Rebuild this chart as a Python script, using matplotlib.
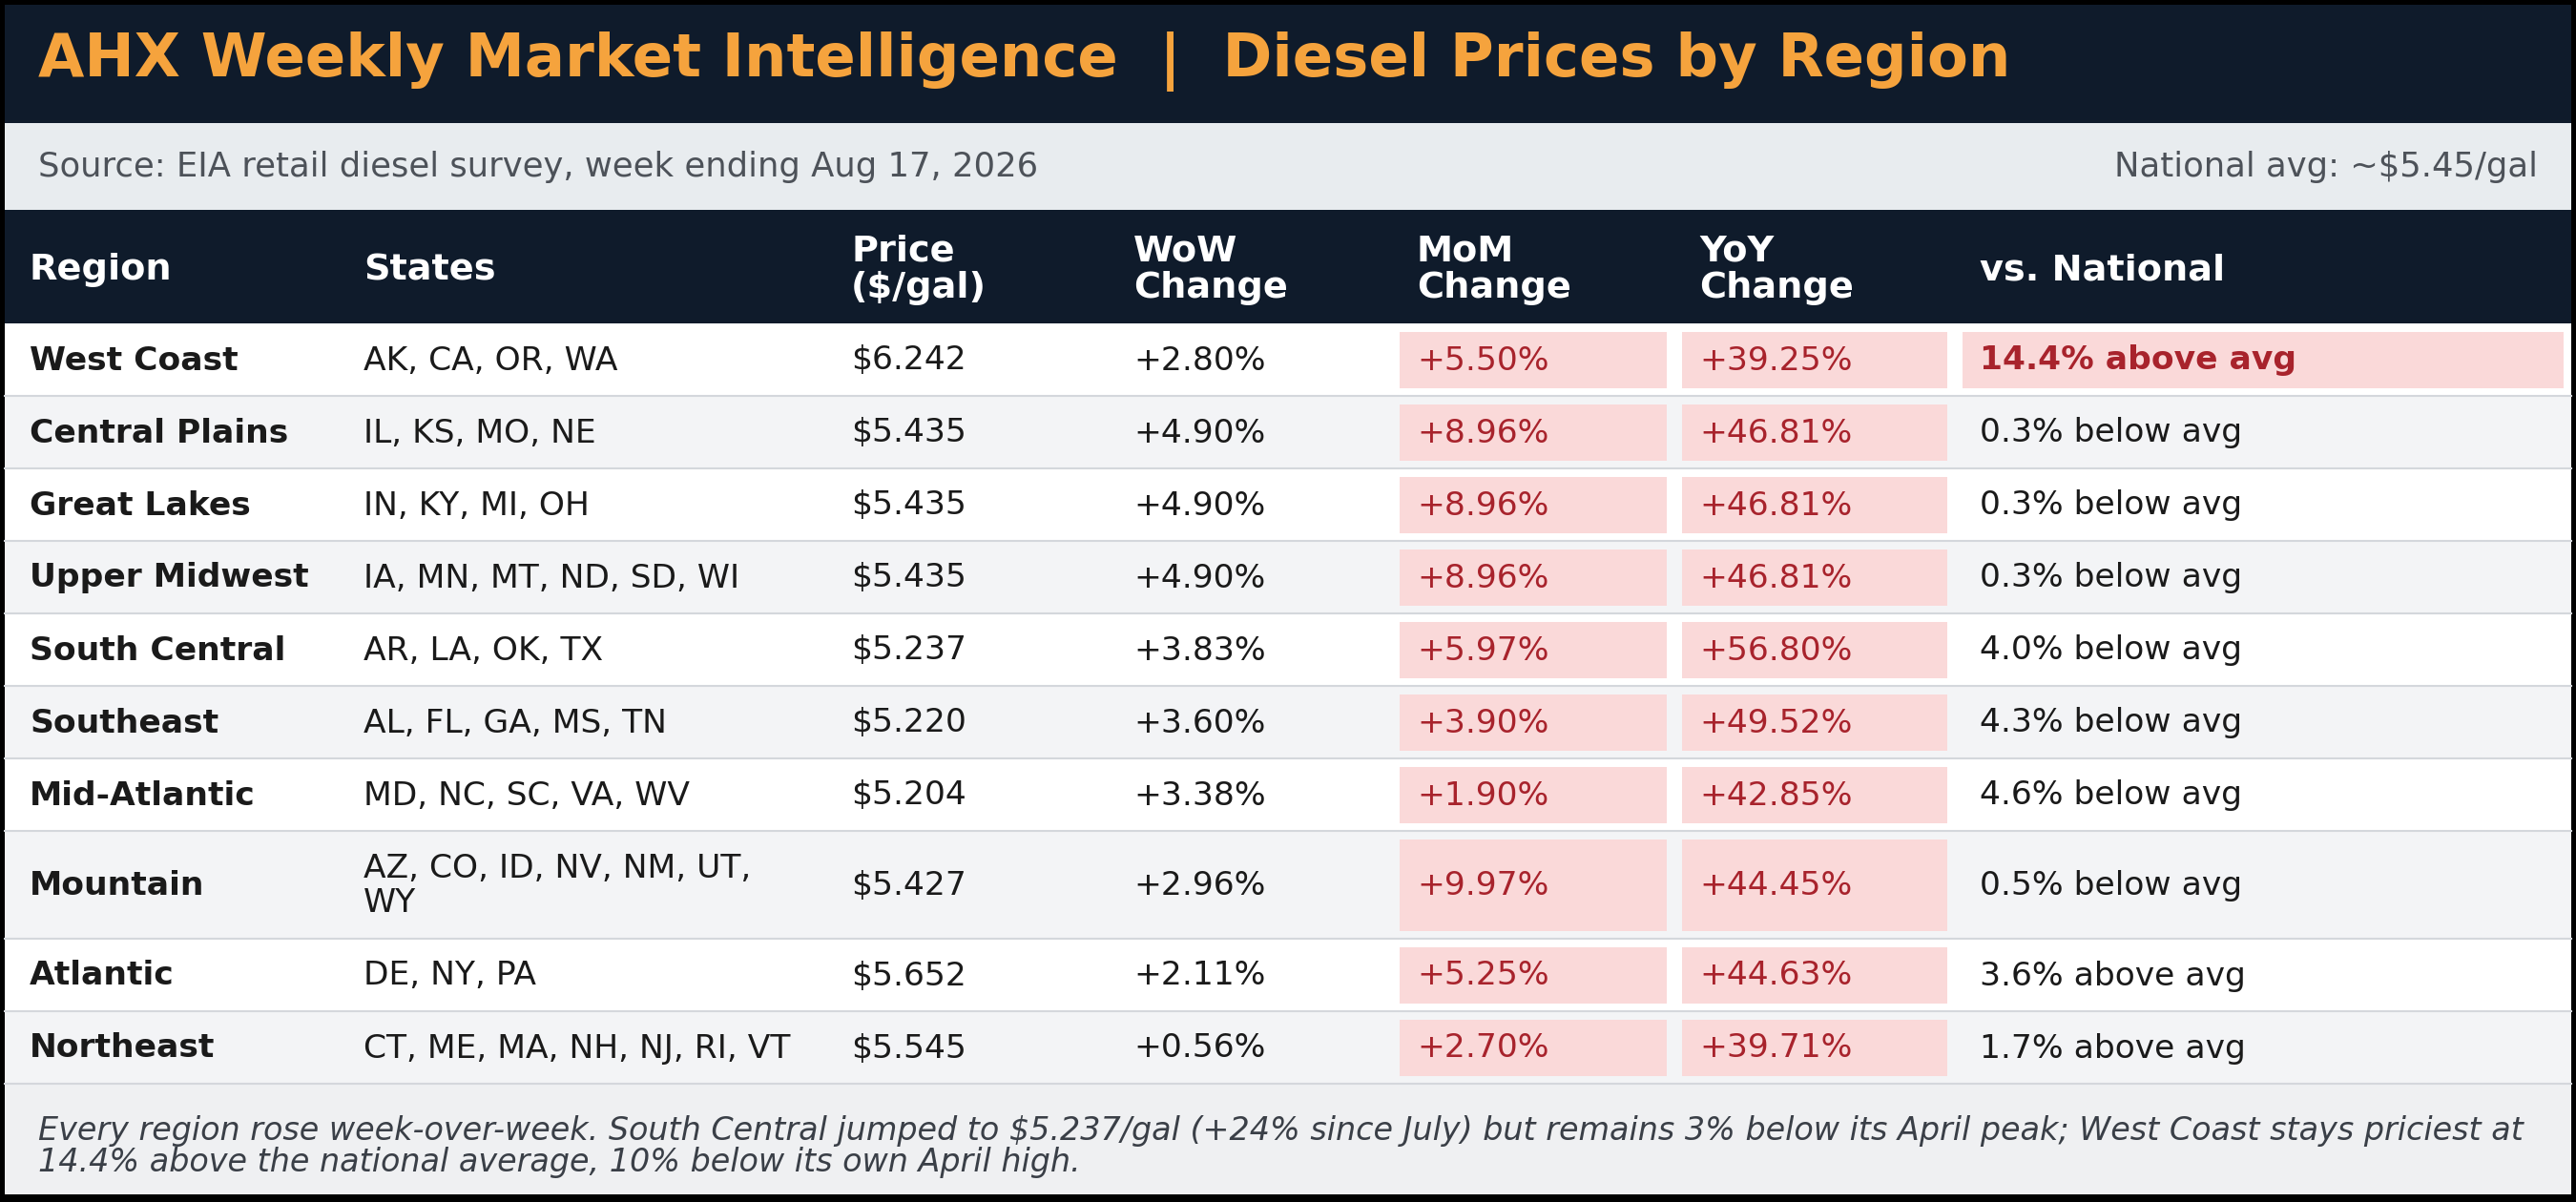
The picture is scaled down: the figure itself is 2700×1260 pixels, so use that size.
import matplotlib.pyplot as plt
from matplotlib.patches import Rectangle

# Table data
regions = ["West Coast", "Central Plains", "Great Lakes", "Upper Midwest", "South Central",
           "Southeast", "Mid-Atlantic", "Mountain", "Atlantic", "Northeast"]
states = ["AK, CA, OR, WA", "IL, KS, MO, NE", "IN, KY, MI, OH", "IA, MN, MT, ND, SD, WI",
          "AR, LA, OK, TX", "AL, FL, GA, MS, TN", "MD, NC, SC, VA, WV",
          "AZ, CO, ID, NV, NM, UT,\nWY", "DE, NY, PA", "CT, ME, MA, NH, NJ, RI, VT"]
price = [6.242, 5.435, 5.435, 5.435, 5.237, 5.220, 5.204, 5.427, 5.652, 5.545]
wow = [2.80, 4.90, 4.90, 4.90, 3.83, 3.60, 3.38, 2.96, 2.11, 0.56]
mom = [5.50, 8.96, 8.96, 8.96, 5.97, 3.90, 1.90, 9.97, 5.25, 2.70]
yoy = [39.25, 46.81, 46.81, 46.81, 56.80, 49.52, 42.85, 44.45, 44.63, 39.71]
vs_nat = [14.4, -0.3, -0.3, -0.3, -4.0, -4.3, -4.6, -0.5, 3.6, 1.7]

headers = ["Region", "States", "Price\n($/gal)", "WoW\nChange", "MoM\nChange", "YoY\nChange", "vs. National"]

title = "AHX Weekly Market Intelligence  |  Diesel Prices by Region"
source = "Source: EIA retail diesel survey, week ending Aug 17, 2026"
natl = "National avg: ~$5.45/gal"
note = ("Every region rose week-over-week. South Central jumped to $5.237/gal (+24% since July) but remains 3% below its April peak; West Coast stays priciest at\n"
        "14.4% above the national average, 10% below its own April high.")

# colours
NAVY = "#0f1b2b"
ORANGE = "#f5a33d"
BAND = "#e8ecef"
ALT = "#f3f4f6"
LINE = "#d4d7dc"
FOOT = "#eff0f2"
PINK = "#fad9d9"
RED = "#a8232c"
INK = "#1a1a1a"
GREY = "#4d5259"

W, H = 2700, 1260
fig = plt.figure(figsize=(27, 12.6), dpi=100, facecolor="black")
ax = fig.add_axes([0, 0, 1, 1])
ax.set_xlim(0, W)
ax.set_ylim(H, 0)
ax.axis("off")

L, R = 5, 2695
col_x = [5, 355, 866, 1162, 1459, 1755, 2049, 2695]
pad = 26
FS = 24.8

def box(x0, y0, x1, y1, c):
    ax.add_patch(Rectangle((x0, y0), x1 - x0, y1 - y0, facecolor=c, edgecolor="none"))

# title bar
box(L, 5, R, 129, NAVY)
ax.text(40, 64, title, color=ORANGE, fontsize=45, fontweight="bold", va="center")

# source band
box(L, 129, R, 220, BAND)
ax.text(40, 175, source, color=GREY, fontsize=25.5, va="center")
ax.text(2660, 175, natl, color=GREY, fontsize=25.5, va="center", ha="right")

# header row
box(L, 220, R, 339, NAVY)
for i, h in enumerate(headers):
    ax.text(col_x[i] + pad, 283, h, color="white", fontsize=27.5, fontweight="bold",
            va="center", linespacing=1.1)

# data rows
y = 339
for i in range(len(regions)):
    rh = 113 if "\n" in states[i] else 76
    box(L, y, R, y + rh, "white" if i % 2 == 0 else ALT)
    if i > 0:
        ax.plot([L, R], [y, y], color=LINE, lw=1.5)
    yc = y + rh / 2 + 1
    ax.text(col_x[0] + pad, yc, regions[i], color=INK, fontsize=FS, fontweight="bold", va="center")
    ax.text(col_x[1] + pad, yc, states[i], color=INK, fontsize=FS, va="center", linespacing=1.1)
    ax.text(col_x[2] + pad, yc, f"${price[i]:.3f}", color=INK, fontsize=FS, va="center")
    ax.text(col_x[3] + pad, yc, f"+{wow[i]:.2f}%", color=INK, fontsize=FS, va="center")
    # MoM and YoY always highlighted
    for j, v in ((4, mom[i]), (5, yoy[i])):
        box(col_x[j] + 8, y + 8.5, col_x[j + 1] - 8, y + rh - 8.5, PINK)
        ax.text(col_x[j] + pad, yc, f"+{v:.2f}%", color=RED, fontsize=FS, va="center")
    v = vs_nat[i]
    lab = f"{abs(v):.1f}% {'above' if v > 0 else 'below'} avg"
    if v > 10:
        box(col_x[6] + 8, y + 8.5, col_x[7] - 8, y + rh - 8.5, PINK)
        ax.text(col_x[6] + pad, yc, lab, color=RED, fontsize=FS, fontweight="bold", va="center")
    else:
        ax.text(col_x[6] + pad, yc, lab, color=INK, fontsize=FS, va="center")
    y += rh

ax.plot([L, R], [y, y], color=LINE, lw=1.5)

# footer
box(L, y, R, 1252, FOOT)
ax.text(40, (y + 1252) / 2 + 8, note, color="#3a3f47", fontsize=24, style="italic",
        va="center", linespacing=0.98)

fig.savefig("out.png", dpi=100, facecolor="black")
